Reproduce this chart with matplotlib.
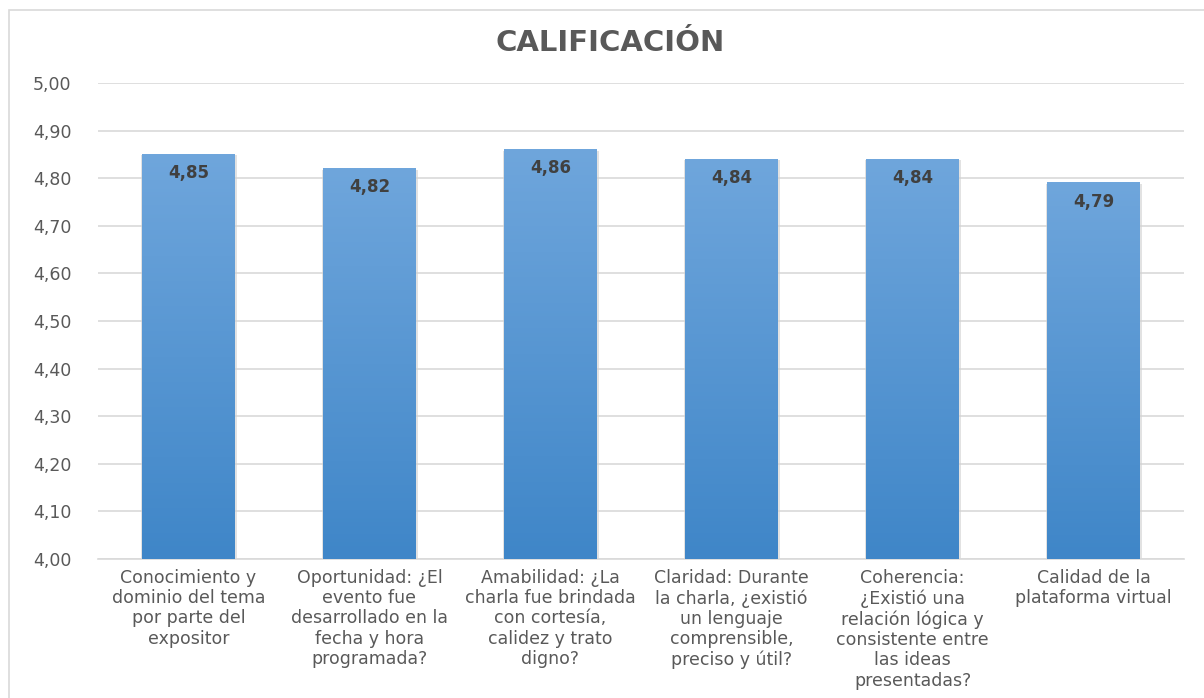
import numpy as np
import matplotlib
matplotlib.use('Agg')
import matplotlib.pyplot as plt
from matplotlib.patches import Rectangle
from matplotlib.colors import LinearSegmentedColormap

# Data
categorias = [
    'Conocimiento y\ndominio del tema\npor parte del\nexpositor',
    'Oportunidad: ¿El\nevento fue\ndesarrollado en la\nfecha y hora\nprogramada?',
    'Amabilidad: ¿La\ncharla fue brindada\ncon cortesía,\ncalidez y trato\ndigno?',
    'Claridad: Durante\nla charla, ¿existió\nun lenguaje\ncomprensible,\npreciso y útil?',
    'Coherencia:\n¿Existió una\nrelación lógica y\nconsistente entre\nlas ideas\npresentadas?',
    'Calidad de la\nplataforma virtual',
]
valores = [4.85, 4.82, 4.86, 4.84, 4.84, 4.79]
yticks = [4.00, 4.10, 4.20, 4.30, 4.40, 4.50, 4.60, 4.70, 4.80, 4.90, 5.00]

plt.rcParams['font.family'] = ['DejaVu Sans']

fig = plt.figure(figsize=(12.04, 6.98), dpi=100)
fig.patches.append(Rectangle((9/1204, -0.05), 1.2, 1 - 10/698 + 0.05, transform=fig.transFigure,
                             fill=False, edgecolor='#d9d9d9', linewidth=1.2))

ax = fig.add_axes([98/1204, 1 - 559/698, 1086/1204, 476/698])

grad = LinearSegmentedColormap.from_list('azul', ['#3f86c8', '#6fa6dc'])
gimg = np.linspace(0, 1, 256).reshape(-1, 1)
ancho = 0.51
x = np.arange(len(valores))
for xi, v in zip(x, valores):
    # sombra
    ax.add_patch(Rectangle((xi - ancho/2 - 0.006, 4.0), ancho + 0.018, v - 4.0 - 0.002,
                           facecolor='#d0d0d0', edgecolor='none', alpha=0.6, zorder=2))
    ax.imshow(gimg, cmap=grad, origin='lower', aspect='auto',
              extent=(xi - ancho/2, xi + ancho/2, 4.0, v), zorder=3)
    ax.annotate(f'{v:.2f}'.replace('.', ','), xy=(xi, v), xytext=(0, -7),
                textcoords='offset points', ha='center', va='top',
                fontsize=12, fontweight='bold', color='#404040', zorder=4)
ax.set_xlim(-0.5, len(valores) - 0.5)
ax.set_ylim(4.0, 5.0)

ax.set_yticks(yticks)
ax.set_yticklabels([f'{t:.2f}'.replace('.', ',') for t in yticks])
ax.set_xticks(x)
ax.set_xticklabels(categorias, linespacing=1.17)
ax.tick_params(axis='y', length=0, pad=19, labelsize=12.5, labelcolor='#595959')
ax.tick_params(axis='x', length=0, pad=7, labelsize=12.5, labelcolor='#595959')
ax.grid(axis='y', color='#d9d9d9', linewidth=1.2, zorder=0)
ax.set_axisbelow(True)
for s in ['top', 'right', 'left']:
    ax.spines[s].set_visible(False)
ax.spines['bottom'].set_color('#d9d9d9')
ax.spines['bottom'].set_linewidth(1.2)

fig.text(610/1204, 1 - 43/698, 'CALIFICACIÓN', ha='center', va='center',
         fontsize=21, fontweight='bold', color='#595959')

fig.savefig('out.png', dpi=100)
